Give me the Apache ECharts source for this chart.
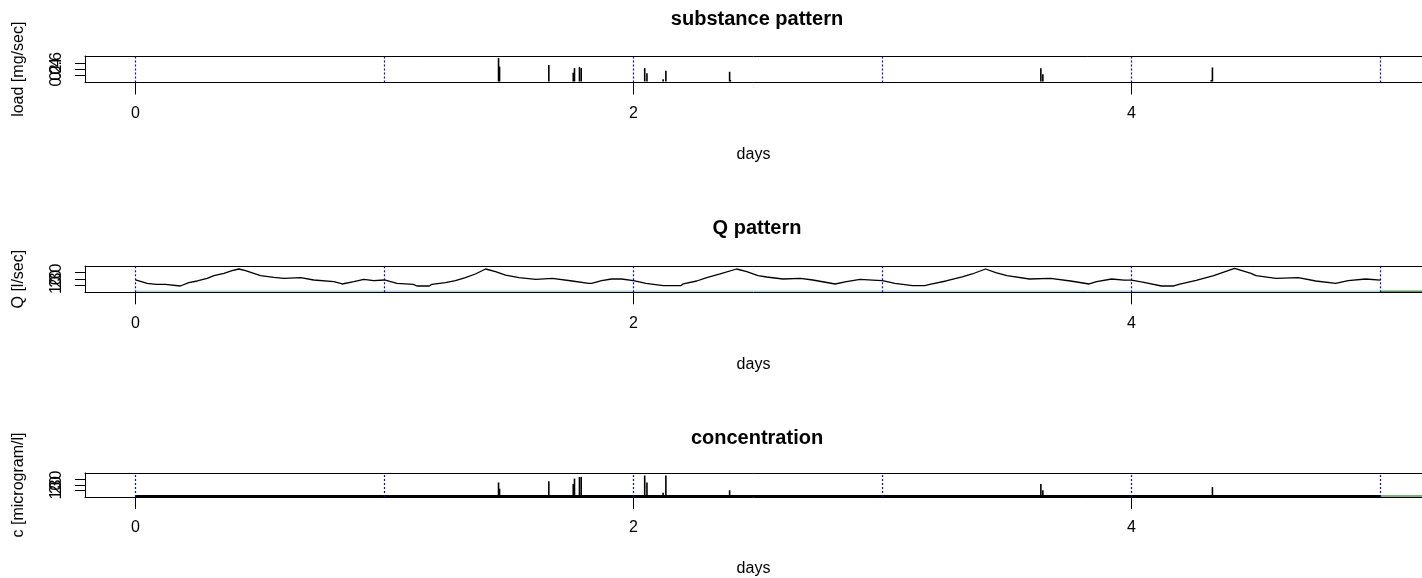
<!DOCTYPE html>
<html>
<head>
<meta charset="utf-8">
<script src="https://cdn.jsdelivr.net/npm/echarts@6/dist/echarts.min.js"></script>
<style>
html,body{margin:0;padding:0;background:#fff;overflow:hidden;}
#chart{width:1422px;height:578px;}
</style>
</head>
<body>
<div id="chart"></div>
<script>
// ---------- data ----------
const refDays = [0, 1, 2, 3, 4, 5];
const xTickValues = [0, 2, 4];
const xTickLabels = ['0', '2', '4'];

const loadTickValues = [0, 0.2, 0.4, 0.6, 0.8];
const loadTickLabels = ['0.0', '0.2', '0.4', '0.6', '0.8'];
const qTickValues = [0, 10, 20, 30, 40];
const qTickLabels = ['0', '10', '20', '30', '40'];
const concTickValues = [0, 10, 20, 30, 40];
const concTickLabels = ['0', '10', '20', '30', '40'];

const loadDays   = [1.458, 1.462, 1.660, 1.758, 1.763, 1.783, 1.790, 2.045, 2.054, 2.119, 2.130, 2.386, 2.389, 3.636, 3.644, 4.320, 4.325];
const loadValues = [0.77, 0.49, 0.54, 0.29, 0.44, 0.48, 0.44, 0.44, 0.27, 0.07, 0.35, 0.32, 0.05, 0.44, 0.24, 0.05, 0.46];

const concDays   = [1.458, 1.462, 1.660, 1.758, 1.763, 1.783, 1.790, 2.045, 2.054, 2.119, 2.130, 2.386, 3.636, 3.644, 4.325];
const concValues = [24.7, 13.4, 26.9, 21.8, 31.9, 34.8, 34.8, 37.5, 24.7, 6.2, 37.5, 10.6, 21.8, 10.6, 16.3];

const qDays = [0.000,0.047,0.083,0.120,0.127,0.180,0.214,0.248,0.288,0.315,0.355,0.388,0.415,0.442,0.475,0.502,0.556,0.596,0.663,0.716,0.797,0.830,0.877,0.917,0.957,
  1.000,1.050,1.116,1.130,1.180,1.190,1.245,1.285,1.325,1.365,1.406,1.446,1.486,1.540,1.607,1.674,1.754,1.820,1.832,1.872,1.912,1.952,
  2.000,2.050,2.120,2.190,2.200,2.254,2.294,2.348,2.414,2.455,2.500,2.535,2.600,2.670,2.720,2.810,2.855,2.910,2.960,
  3.000,3.050,3.120,3.170,3.190,3.255,3.320,3.360,3.414,3.455,3.500,3.590,3.675,3.755,3.830,3.860,3.920,3.970,
  4.000,4.050,4.120,4.170,4.190,4.260,4.330,4.414,4.480,4.500,4.580,4.670,4.740,4.820,4.870,4.940,5.000];
const qValues = [18.1,12.8,11.2,11.2,8.5,8.5,13.8,16.5,20.8,25.0,28.8,33.0,35.7,33.0,28.8,25.0,22.4,20.8,21.8,18.1,15.4,11.7,15.4,19.2,17.0,
  18.1,12.8,11.2,8.5,8.5,11.2,13.8,17.0,21.8,27.7,35.7,31.4,26.0,21.8,19.2,20.8,16.5,12.8,12.8,17.0,19.7,19.7,
  17.0,12.8,9.0,9.0,12.0,16.5,21.8,27.7,35.7,31.4,25.0,22.9,19.7,20.8,18.1,11.7,15.4,19.2,18.0,
  17.0,12.8,9.0,9.0,11.0,16.5,23.0,27.7,35.7,30.0,25.0,19.7,20.8,16.5,11.7,15.4,19.7,18.0,
  18.0,14.4,8.5,8.5,11.2,17.5,25.0,36.8,28.8,25.0,20.8,21.8,16.5,12.8,17.0,19.7,18.0];

const zeroLineDays = [0, 5];
const tailDays = [5, 5.2];

// ---------- build ----------
const FONT = '"Liberation Sans", Arial, sans-serif';
const pairs = (xs, ys) => xs.map((x, i) => [x, ys[i]]);
const flat = (xs, v) => xs.map(x => [x, v]);

// x scale: 249 px per day, day 0 at pixel 135.5, plot box starting at 85
const GRID_LEFT = 85, GRID_W = 1337, PX_PER_DAY = 249, ZERO_PX = 135.5;
const X_MIN = -(ZERO_PX - GRID_LEFT) / PX_PER_DAY;
const X_MAX = X_MIN + GRID_W / PX_PER_DAY;

const panels = [
  { top: 56, height: 26.5, title: 'substance pattern', titleY: 19, yName: 'load [mg/sec]', yMin: -0.034, yMax: 0.84, yTicks: loadTickValues, yLabels: loadTickLabels },
  { top: 266, height: 26.3, title: 'Q pattern', titleY: 228, yName: 'Q [l/sec]', yMin: -1.6, yMax: 40.5, yTicks: qTickValues, yLabels: qTickLabels },
  { top: 473, height: 26, title: 'concentration', titleY: 438, yName: 'c [microgram/l]', yMin: -1.7, yMax: 42, yTicks: concTickValues, yLabels: concTickLabels }
];

const grids = panels.map(p => ({
  left: GRID_LEFT, width: GRID_W, top: p.top, height: p.height, show: false
}));

const axisLineStyle = { show: true, onZero: false, lineStyle: { color: '#000', width: 1 } };

const xAxes = [];
panels.forEach((p, i) => {
  xAxes.push({
    type: 'value', gridIndex: i, min: X_MIN, max: X_MAX, position: 'bottom',
    name: 'days', nameLocation: 'middle', nameGap: 64,
    nameTextStyle: { fontFamily: FONT, fontSize: 16, color: '#000' },
    axisLine: axisLineStyle,
    splitLine: { show: false },
    axisTick: { show: true, inside: false, length: 12, customValues: xTickValues, lineStyle: { color: '#000', width: 1 } },
    axisLabel: { show: true, margin: 23, customValues: xTickValues,
      formatter: v => xTickLabels[xTickValues.indexOf(v)] ?? '',
      fontFamily: FONT, fontSize: 16, color: '#000' }
  });
});
// top edge of each plot box
panels.forEach((p, i) => {
  xAxes.push({
    type: 'value', gridIndex: i, min: X_MIN, max: X_MAX, position: 'top',
    axisLine: axisLineStyle, axisTick: { show: false }, axisLabel: { show: false }, splitLine: { show: false }
  });
});

const yAxes = panels.map((p, i) => ({
  type: 'value', gridIndex: i, min: p.yMin, max: p.yMax,
  name: p.yName, nameLocation: 'middle', nameGap: 58, nameRotate: 90,
  nameTextStyle: { fontFamily: FONT, fontSize: 16, color: '#000' },
  axisLine: axisLineStyle,
  splitLine: { show: false },
  axisTick: { show: true, inside: false, length: 10, customValues: p.yTicks, lineStyle: { color: '#000', width: 1 } },
  axisLabel: { show: true, rotate: 90, margin: 20, customValues: p.yTicks, hideOverlap: false,
    formatter: v => { const k = p.yTicks.findIndex(t => Math.abs(t - v) < 1e-9); return k >= 0 ? p.yLabels[k] : ''; },
    fontFamily: FONT, fontSize: 16, color: '#000' }
}));

const series = [];
// blue dotted day lines in every panel
panels.forEach((p, i) => {
  refDays.forEach(d => {
    series.push({
      type: 'line', xAxisIndex: i, yAxisIndex: i, silent: true, showSymbol: false,
      data: [[d, p.yMin], [d, p.yMax]],
      lineStyle: { color: '#0000ff', width: 1.2, type: [2, 2] }, z: 10
    });
  });
});

series.push(
  { type: 'bar', xAxisIndex: 0, yAxisIndex: 0, data: pairs(loadDays, loadValues), barWidth: 1.6,
    itemStyle: { color: '#000' }, z: 3 },

  { type: 'line', xAxisIndex: 1, yAxisIndex: 1, data: flat(zeroLineDays, 0), showSymbol: false,
    lineStyle: { color: '#a6d7e4', width: 1.5 }, z: 2 },
  { type: 'line', xAxisIndex: 1, yAxisIndex: 1, data: flat(tailDays, 0), showSymbol: false,
    lineStyle: { color: '#4f9a4f', width: 1.5 }, z: 2 },
  { type: 'line', xAxisIndex: 1, yAxisIndex: 1, data: pairs(qDays, qValues), showSymbol: false,
    lineStyle: { color: '#000', width: 1.3 }, z: 3 },

  { type: 'line', xAxisIndex: 2, yAxisIndex: 2, data: flat(zeroLineDays, 0), showSymbol: false,
    lineStyle: { color: '#000', width: 2 }, z: 2 },
  { type: 'line', xAxisIndex: 2, yAxisIndex: 2, data: flat(tailDays, 0), showSymbol: false,
    lineStyle: { color: '#4f9a4f', width: 1.5 }, z: 2 },
  { type: 'bar', xAxisIndex: 2, yAxisIndex: 2, data: pairs(concDays, concValues), barWidth: 1.6,
    itemStyle: { color: '#000' }, z: 3 }
);

const graphics = panels.map(p => ({
  type: 'text', x: 757, y: p.titleY,
  style: { text: p.title, textAlign: 'center', textVerticalAlign: 'middle',
    font: 'bold 20px ' + FONT, fill: '#000' }
}));

const chart = echarts.init(document.getElementById('chart'), null, { renderer: 'canvas', width: 1422, height: 578 });
chart.setOption({
  animation: false,
  backgroundColor: '#fff',
  grid: grids,
  xAxis: xAxes,
  yAxis: yAxes,
  series: series,
  graphic: graphics
});
</script>
</body>
</html>
